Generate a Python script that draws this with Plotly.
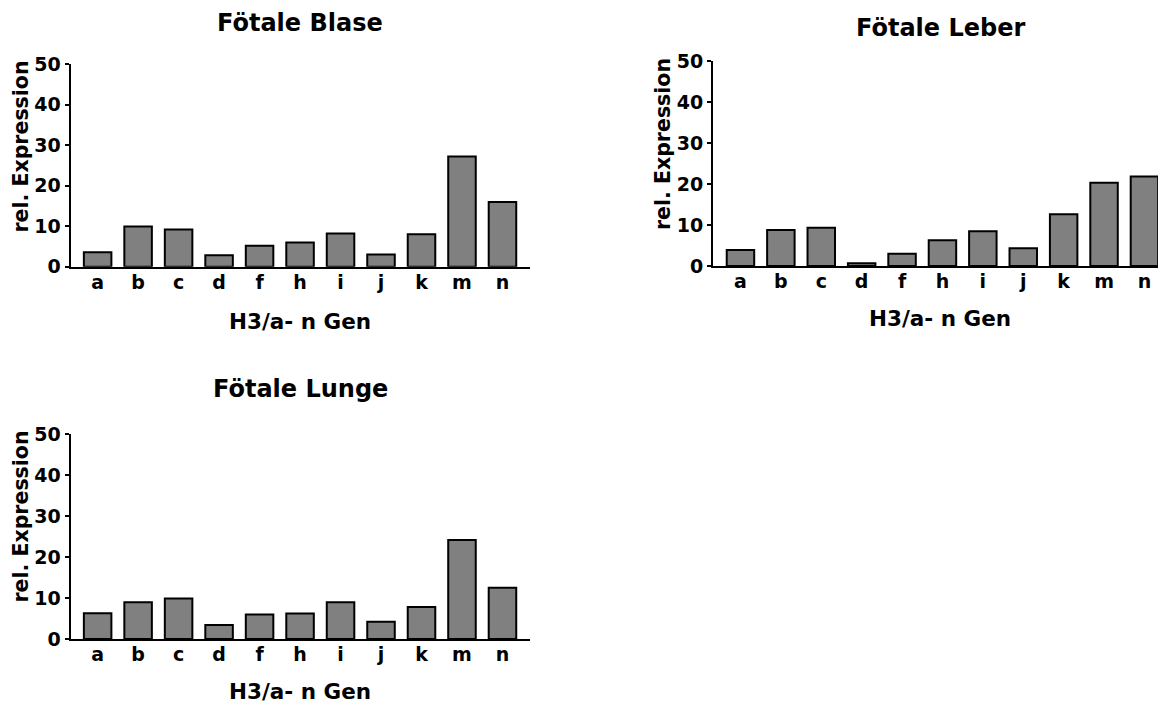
import plotly.graph_objects as go

categories = ["a", "b", "c", "d", "f", "h", "i", "j", "k", "m", "n"]
blase = [3.6, 9.9, 9.2, 2.8, 5.2, 6.0, 8.2, 3.0, 8.0, 27.2, 16.0]
leber = [3.9, 8.8, 9.3, 0.7, 3.0, 6.3, 8.5, 4.3, 12.6, 20.3, 21.8]
lunge = [6.3, 9.0, 9.9, 3.4, 6.0, 6.2, 9.0, 4.2, 7.8, 24.2, 12.5]
titles = ["Fötale Blase", "Fötale Leber", "Fötale Lunge"]
y_title = "rel. Expression"
x_title = "H3/a- n Gen"
y_ticks = [0, 10, 20, 30, 40, 50]

W, H = 1166, 702
FONT = "DejaVu Sans"
OFF = 8  # page body margin compensation

# panel pixel boxes in screen pixels
panels = [
    dict(l=70.5, r=530, t=64.3, b=266.7, xr=[-0.67, 10.68], data=blase, tx=300, ty=23, yt_y=147, xt_y=321),
    dict(l=713, r=1171.5, t=61, b=266, xr=[-0.68, 10.67], data=leber, tx=940, ty=28, yt_y=144, xt_y=318),
    dict(l=70.5, r=530, t=434.3, b=639, xr=[-0.67, 10.68], data=lunge, tx=300, ty=389, yt_y=517, xt_y=691),
]

def px(v):
    return (v - OFF) / W

def py(v):
    return 1 - (v - OFF) / H

fig = go.Figure()
annotations = []
for i, p in enumerate(panels):
    sfx = "" if i == 0 else str(i + 1)
    fig.add_trace(go.Bar(
        x=categories, y=p["data"], xaxis="x" + sfx, yaxis="y" + sfx,
        marker=dict(color="#808080", line=dict(color="black", width=2)),
        width=0.68, showlegend=False,
    ))
    fig.update_layout(**{
        "xaxis" + sfx: dict(
            domain=[px(p["l"]), min(1.0, px(p["r"]))], anchor="y" + sfx,
            range=p["xr"], showline=True, linecolor="black", linewidth=2,
            ticks="", showgrid=False, zeroline=False, automargin=False,
            ticklabelstandoff=-3,
            tickfont=dict(family=FONT, size=19, color="black", weight="bold"),
            type="category",
        ),
        "yaxis" + sfx: dict(
            domain=[py(p["b"]), py(p["t"])], anchor="x" + sfx,
            range=[0, 50], tickvals=y_ticks, showline=True, linecolor="black", linewidth=2,
            ticks="outside", ticklen=4, tickwidth=2, tickcolor="black",
            showgrid=False, zeroline=False, automargin=False,
            tickfont=dict(family=FONT, size=19, color="black", weight="bold"),
        ),
    })
    annotations.append(dict(
        text=titles[i], x=px(p["tx"]), y=py(p["ty"]), xref="paper", yref="paper",
        xanchor="center", yanchor="middle", showarrow=False,
        font=dict(family=FONT, size=24, color="black", weight="bold"),
    ))
    annotations.append(dict(
        text=y_title, x=px(p["l"] - 50), y=py(p["yt_y"]), xref="paper", yref="paper",
        xanchor="center", yanchor="middle", showarrow=False, textangle=-90,
        font=dict(family=FONT, size=20.5, color="black", weight="bold"),
    ))
    annotations.append(dict(
        text=x_title, x=px(p["tx"]), y=py(p["xt_y"]), xref="paper", yref="paper",
        xanchor="center", yanchor="middle", showarrow=False,
        font=dict(family=FONT, size=21.5, color="black", weight="bold"),
    ))

fig.update_layout(
    width=W, height=H, margin=dict(l=0, r=0, t=0, b=0),
    paper_bgcolor="white", plot_bgcolor="white",
    annotations=annotations, bargap=0.32,
)

fig.write_html("out.html")
